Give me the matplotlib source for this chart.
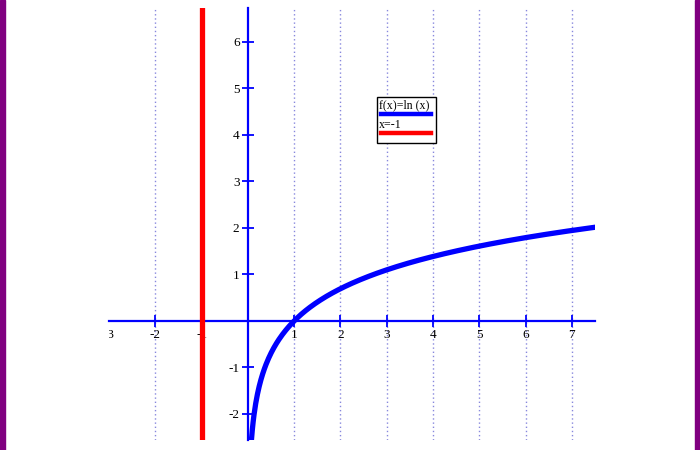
import numpy as np
import matplotlib
matplotlib.use("Agg")
import matplotlib.pyplot as plt
from matplotlib.patches import Rectangle
from matplotlib.lines import Line2D

plt.rcParams['axes.unicode_minus'] = False

# plotted function f(x)=ln(x) and the vertical line x=-1
x_start, x_end = 0.077, 7.5
vertical_x = -1
x_ticks = [-3, -2, -1, 1, 2, 3, 4, 5, 6, 7]
grid_x = [-2, -1, 1, 2, 3, 4, 5, 6, 7]
y_ticks = [-2, -1, 1, 2, 3, 4, 5, 6]
legend_labels = ['f(x)=ln (x)', 'x=-1']

W, H = 700, 450
fig = plt.figure(figsize=(7, 4.5), dpi=100)
fig.patch.set_facecolor('white')

# purple side borders
fig.patches.append(Rectangle((0, 0), 5 / W, 1, transform=fig.transFigure, color='#800080', zorder=0))
fig.patches.append(Rectangle((695 / W, 0), 5 / W, 1, transform=fig.transFigure, color='#800080', zorder=0))

left, right, top, bottom = 109, 595, 8, 440
ax = fig.add_axes([left / W, 1 - bottom / H, (right - left) / W, (bottom - top) / H])
ax.set_xlim(-2.94, 7.5)
ax.set_ylim(-2.56, 6.73)
ax.set_facecolor('none')

# dotted vertical grid
for gx in grid_x:
    ax.axvline(gx, color='#8888dd', lw=1, ls=(0, (1, 2)), zorder=1)

for s in ['top', 'right']:
    ax.spines[s].set_visible(False)
for s in ['left', 'bottom']:
    ax.spines[s].set_position('zero')
    ax.spines[s].set_color('blue')
    ax.spines[s].set_linewidth(1.6)
    ax.spines[s].set_zorder(2)

ax.set_xticks(x_ticks)
ax.set_xticklabels([str(v) for v in x_ticks])
ax.set_yticks(y_ticks)
ax.set_yticklabels([str(v) for v in y_ticks])
ax.tick_params(axis='both', direction='inout', length=8, width=1.3, color='blue',
               labelsize=9.5, pad=2)
for lab in ax.get_xticklabels() + ax.get_yticklabels():
    lab.set_fontfamily('Liberation Serif')
    lab.set_clip_box(ax.bbox)
    lab.set_clip_on(True)
# the -3 tick sits just outside the axis, only its cut label shows
ax.xaxis.get_major_ticks()[0].tick1line.set_visible(False)

xs = np.linspace(x_start, x_end, 400)
ax.plot(xs, np.log(xs), color='blue', lw=3.8, zorder=4)
ax.axvline(vertical_x, color='red', lw=3.8, zorder=3)

# legend box drawn by hand (text above line sample)
def fx(px):
    return px / W

def fy(py):
    return 1 - py / H

fig.patches.append(Rectangle((fx(377), fy(143)), fx(436) - fx(377), fy(97) - fy(143),
                             transform=fig.transFigure, facecolor='white', edgecolor='black', lw=1, zorder=5))
fig.text(fx(379), fy(105), legend_labels[0], fontfamily='Liberation Serif', fontsize=8.6, va='center', zorder=6)
fig.add_artist(Line2D([fx(381), fx(431)], [fy(114), fy(114)], color='blue', lw=3.2, transform=fig.transFigure, zorder=6))
fig.text(fx(379), fy(125), legend_labels[1], fontfamily='Liberation Serif', fontsize=8.6, va='center', zorder=6)
fig.add_artist(Line2D([fx(381), fx(431)], [fy(133), fy(133)], color='red', lw=3.2, transform=fig.transFigure, zorder=6))

fig.savefig('out.png', dpi=100)
